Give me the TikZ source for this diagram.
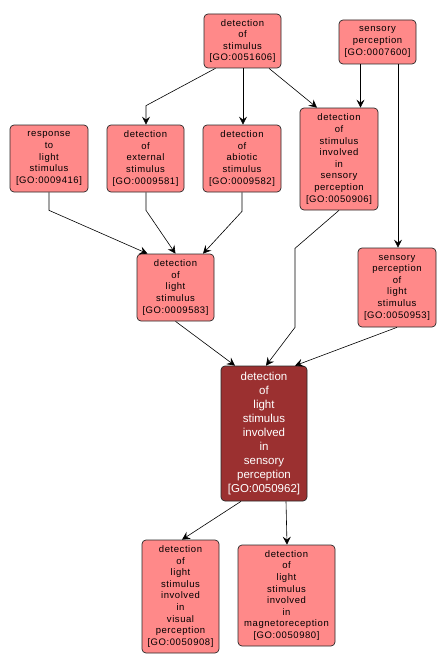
\documentclass[tikz,border=0pt]{standalone}
\usepackage{fontspec}
\setmainfont{Liberation Sans}
\usetikzlibrary{arrows.meta,calc}
\definecolor{lightnode}{RGB}{255,137,137}
\definecolor{darknode}{RGB}{155,48,48}
\definecolor{nodeborder}{RGB}{40,40,40}
\begin{document}
\begin{tikzpicture}[x=1pt,y=-1pt,
  goterm/.style={draw=nodeborder, line width=0.7pt, fill=lightnode, rounded corners=4pt,
    align=center, inner sep=0pt,
    font=\fontsize{9.5}{11.6}\selectfont\addfontfeature{LetterSpace=6}},
  goactive/.style={draw=nodeborder, line width=0.7pt, fill=darknode, text=white, rounded corners=4pt,
    align=center, inner sep=0pt, font=\fontsize{11.5}{14}\selectfont},
  arr/.style={draw=black, line width=0.6pt, -{Stealth[length=8pt,width=8pt,inset=3pt]}}]
\useasboundingbox (0,0) rectangle (446,669);
\fill[white] (0,0) rectangle (446,669);

\node[goterm, minimum width=77, minimum height=54] (n1) at (242.5,41) {detection\\of\\stimulus\\{[GO:0051606]}};
\node[goterm, minimum width=77, minimum height=44] (n2) at (377.5,42) {sensory\\perception\\{[GO:0007600]}};
\node[goterm, minimum width=78, minimum height=67] (n3) at (49,158.5) {response\\to\\light\\stimulus\\{[GO:0009416]}};
\node[goterm, minimum width=77, minimum height=67] (n4) at (145.5,158.5) {detection\\of\\external\\stimulus\\{[GO:0009581]}};
\node[goterm, minimum width=78, minimum height=67] (n5) at (242,158.5) {detection\\of\\abiotic\\stimulus\\{[GO:0009582]}};
\node[goterm, minimum width=78, minimum height=102] (n6) at (339,159) {detection\\of\\stimulus\\involved\\in\\sensory\\perception\\{[GO:0050906]}};
\node[goterm, minimum width=77, minimum height=67] (n7) at (175.5,287.5) {detection\\of\\light\\stimulus\\{[GO:0009583]}};
\node[goterm, minimum width=78, minimum height=79] (n8) at (397,287.5) {sensory\\perception\\of\\light\\stimulus\\{[GO:0050953]}};
\node[goactive, minimum width=86, minimum height=135] (n9) at (264,433.5) {detection\\of\\light\\stimulus\\involved\\in\\sensory\\perception\\{[GO:0050962]}};
\node[goterm, minimum width=77, minimum height=113] (n10) at (180.5,596.5) {detection\\of\\light\\stimulus\\involved\\in\\visual\\perception\\{[GO:0050908]}};
\node[goterm, minimum width=97, minimum height=101] (n11) at (286.5,595.5) {detection\\of\\light\\stimulus\\involved\\in\\magnetoreception\\{[GO:0050980]}};

% edges
\draw[arr] ($(n1.south)+(-27,0)$) -- ($(n4.north)+(0.5,-19)$) -- ($(n4.north)+(0.5,0)$);
\draw[arr] ($(n1.south)+(0.5,0)$) -- ($(n5.north)+(1,0)$);
\draw[arr] ($(n1.south)+(26.5,0)$) -- ($(n6.north)+(-22,0)$);
\draw[arr] ($(n2.south)+(-17,0)$) -- ($(n6.north)+(21.5,0)$);
\draw[arr] ($(n2.south)+(20.5,0)$) -- ($(n8.north)+(1,0)$);
\draw[arr] (n3.south) -- ($(n3.south)+(0,18)$) -- ($(n7.north)+(-28,0)$);
\draw[arr] ($(n4.south)+(0.5,0)$) -- ($(n4.south)+(0.5,18)$) -- ($(n7.north)+(0,0)$);
\draw[arr] (n5.south) -- ($(n5.south)+(0,19)$) -- ($(n7.north)+(27.5,0)$);
\draw[arr] (n7.south) -- ($(n9.north)+(-29,0)$);
\draw[arr] (n6.south) -- ($(n6.south)+(-44,38)$) -- ($(n6.south)+(-44,117)$) -- ($(n9.north)+(2,0)$);
\draw[arr] (n8.south) -- ($(n9.north)+(31,0)$);
\draw[arr] ($(n9.south)+(-23,0)$) -- ($(n10.north)+(1.5,0)$);
\draw[arr] ($(n9.south)+(22,0)$) -- ($(n11.north)+(0.5,0)$);
\end{tikzpicture}
\end{document}
